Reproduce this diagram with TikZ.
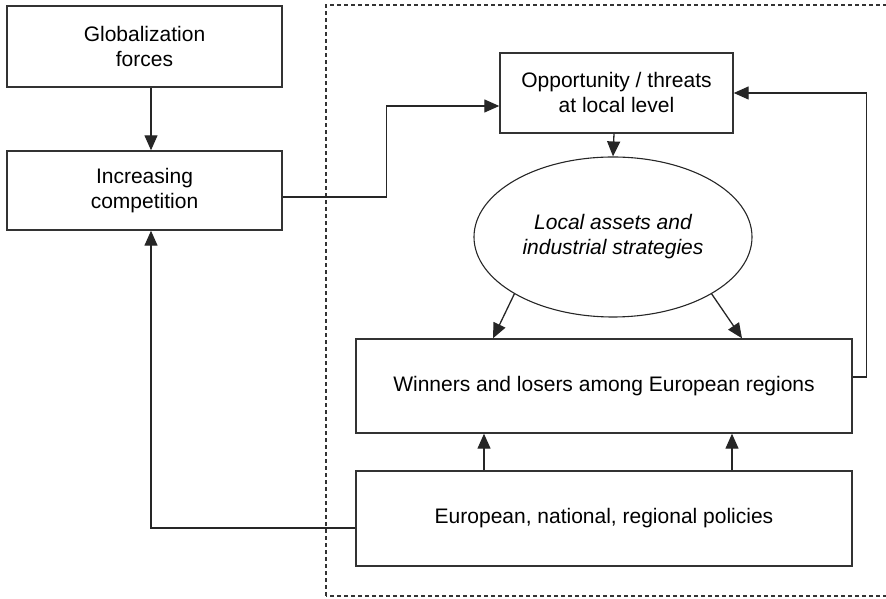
\documentclass[tikz,border=0pt]{standalone}
\usepackage{fontspec}
\setmainfont{Liberation Sans}
\usepackage{tikz}
\usetikzlibrary{calc,positioning,arrows.meta,shapes}
\tikzset{
	x=1pt,
	y=1pt,
	>={Triangle[length=15pt,width=13pt]},
	block/.style={draw=black!80, line width=1.4pt, rectangle, inner sep=0pt, align=center,
		font=\fontsize{21}{25}\selectfont},
	blob/.style={draw=black!85, line width=1.1pt, ellipse, inner sep=0pt, align=center,
		minimum width=278pt, minimum height=160pt, font=\fontsize{21}{25}\selectfont\itshape},
	link/.style={->, draw=black!85, line width=1.3pt},
}

\begin{document}
\begin{tikzpicture}
        \useasboundingbox (0,0) rectangle (886,599);
        \clip (0,0) rectangle (886,599);
        % dashed area (cut at the right side)
        \draw[black!80, line width=1.1pt, dash pattern=on 4pt off 3pt] (326,3) rectangle (894,594);

        \node[block, minimum width=275pt, minimum height=81pt] (glob) at (144.5,552.5) {Globalization\\forces};
        \node[block, minimum width=275pt, minimum height=79pt] (comp) at (144.5,408.5) {Increasing\\competition};
        \node[block, minimum width=233pt, minimum height=80pt] (opp) at (616.5,506) {Opportunity / threats\\at local level};
        \node[blob] (assets) at (613,362) {Local assets and\\industrial strategies};
        \node[block, minimum width=496pt, minimum height=94pt] (win) at (604,213) {Winners and losers among European regions};
        \node[block, minimum width=496pt, minimum height=95pt] (pol) at (604,80.5) {European, national, regional policies};

        \draw[link] ([xshift=6.5pt]glob.south) -- ([xshift=6.5pt]comp.north);
        \draw[link] ([yshift=-6.5pt]comp.east) -- ++(104,0) |- ([yshift=-13pt]opp.west);
        \draw[link] ([xshift=-2.5pt]opp.south) -- (assets.north);
        \draw[link] (assets.south west) -- ([xshift=-111pt]win.north);
        \draw[link] (assets.south east) -- ([xshift=138pt]win.north);
        \draw[link] ([xshift=-120pt]pol.north) -- ([xshift=-120pt]win.south);
        \draw[link] ([xshift=128pt]pol.north) -- ([xshift=128pt]win.south);
        \draw[link] ([yshift=9pt]win.east) -- ++(14,0) |- (opp.east);
        \draw[link] ([yshift=-9.5pt]pol.west) -| ([xshift=6.5pt]comp.south);
    \end{tikzpicture}
\end{document}
